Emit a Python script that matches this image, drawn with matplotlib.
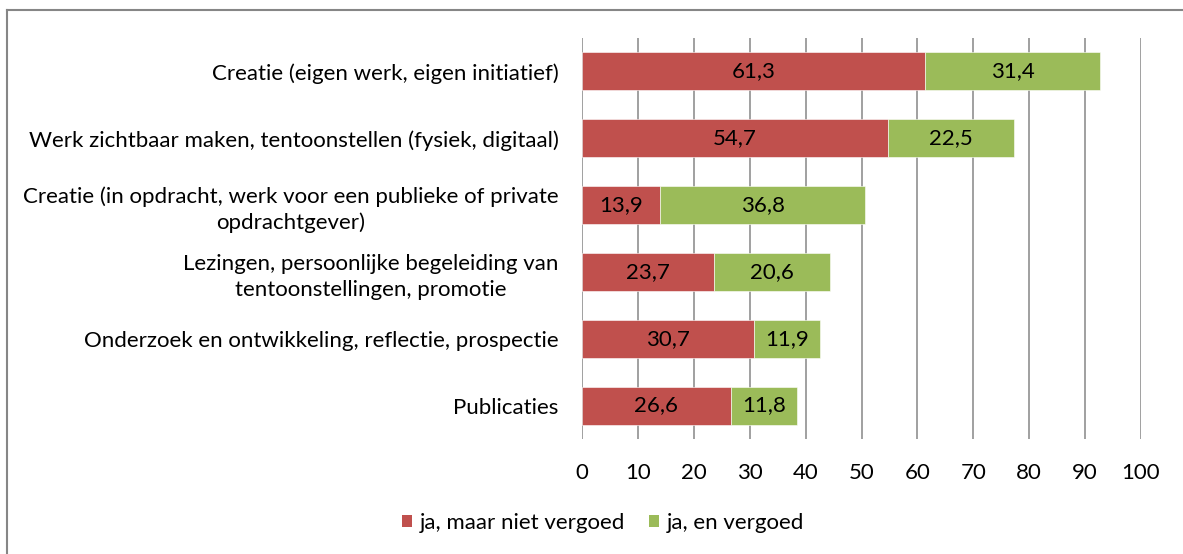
import matplotlib
matplotlib.use("Agg")
import matplotlib.pyplot as plt
from matplotlib.lines import Line2D
from matplotlib.patches import Patch

categories = [
    "Creatie (eigen werk, eigen initiatief)",
    "Werk zichtbaar maken, tentoonstellen (fysiek, digitaal)",
    "Creatie (in opdracht, werk voor een publieke of private\nopdrachtgever)",
    "Lezingen, persoonlijke begeleiding van\ntentoonstellingen, promotie",
    "Onderzoek en ontwikkeling, reflectie, prospectie",
    "Publicaties",
]
niet_vergoed = [61.3, 54.7, 13.9, 23.7, 30.7, 26.6]
vergoed = [31.4, 22.5, 36.8, 20.6, 11.9, 11.8]
series_names = ["ja, maar niet vergoed", "ja, en vergoed"]
xticks = [0, 10, 20, 30, 40, 50, 60, 70, 80, 90, 100]

RED = "#C0504D"
GREEN = "#9BBB59"
GRID = "#868686"
FONT = "Lato"
FS = 16

plt.rcParams["font.family"] = [FONT, "DejaVu Sans"]

W, H = 1183, 554
fig = plt.figure(figsize=(W / 100, H / 100), dpi=100)
ax = fig.add_axes([582 / W, 1 - 439 / H, (1141 - 582) / W, (439 - 38) / H])

y = list(range(len(categories)))
bh = 0.57
b1 = ax.barh(y, niet_vergoed, height=bh, color=RED, edgecolor="white", linewidth=0.4, zorder=3)
b2 = ax.barh(y, vergoed, left=niet_vergoed, height=bh, color=GREEN, edgecolor="white", linewidth=0.4, zorder=3)

for bars, vals, lefts in ((b1, niet_vergoed, [0] * len(y)), (b2, vergoed, niet_vergoed)):
    for yi, v, l in zip(y, vals, lefts):
        ax.text(l + v / 2, yi, f"{v:.1f}".replace(".", ","), ha="center", va="center",
                fontsize=FS, color="black", zorder=4)

ax.set_xlim(0, 100)
ax.set_ylim(len(categories) - 0.5, -0.5)
ax.set_xticks(xticks)
ax.set_xticklabels([str(t) for t in xticks], fontsize=FS)
ax.set_yticks(y)
ax.set_yticklabels(categories, fontsize=FS, multialignment="center", linespacing=1.35)
ax.tick_params(axis="x", length=0, pad=17)
ax.tick_params(axis="y", length=0, pad=17)
for s in ax.spines.values():
    s.set_visible(False)
for t in xticks:
    ax.axvline(t, color=GRID, linewidth=1.1, zorder=1)

handles = [Patch(facecolor=RED, edgecolor="none"), Patch(facecolor=GREEN, edgecolor="none")]
fig.legend(handles, series_names, loc="center", bbox_to_anchor=(603 / W, 1 - 523 / H),
           ncol=2, frameon=False, fontsize=FS, handlelength=0.45, handleheight=0.45,
           handletextpad=0.35, columnspacing=1.1)

# chart border
fig.add_artist(Line2D([6.5 / W, 6.5 / W], [-0.1, 1 - 9.5 / H], transform=fig.transFigure,
                      color=GRID, linewidth=1.5))
fig.add_artist(Line2D([6.5 / W, 1.1], [1 - 9.5 / H, 1 - 9.5 / H], transform=fig.transFigure,
                      color=GRID, linewidth=1.5))

fig.savefig("out.png", dpi=100)
